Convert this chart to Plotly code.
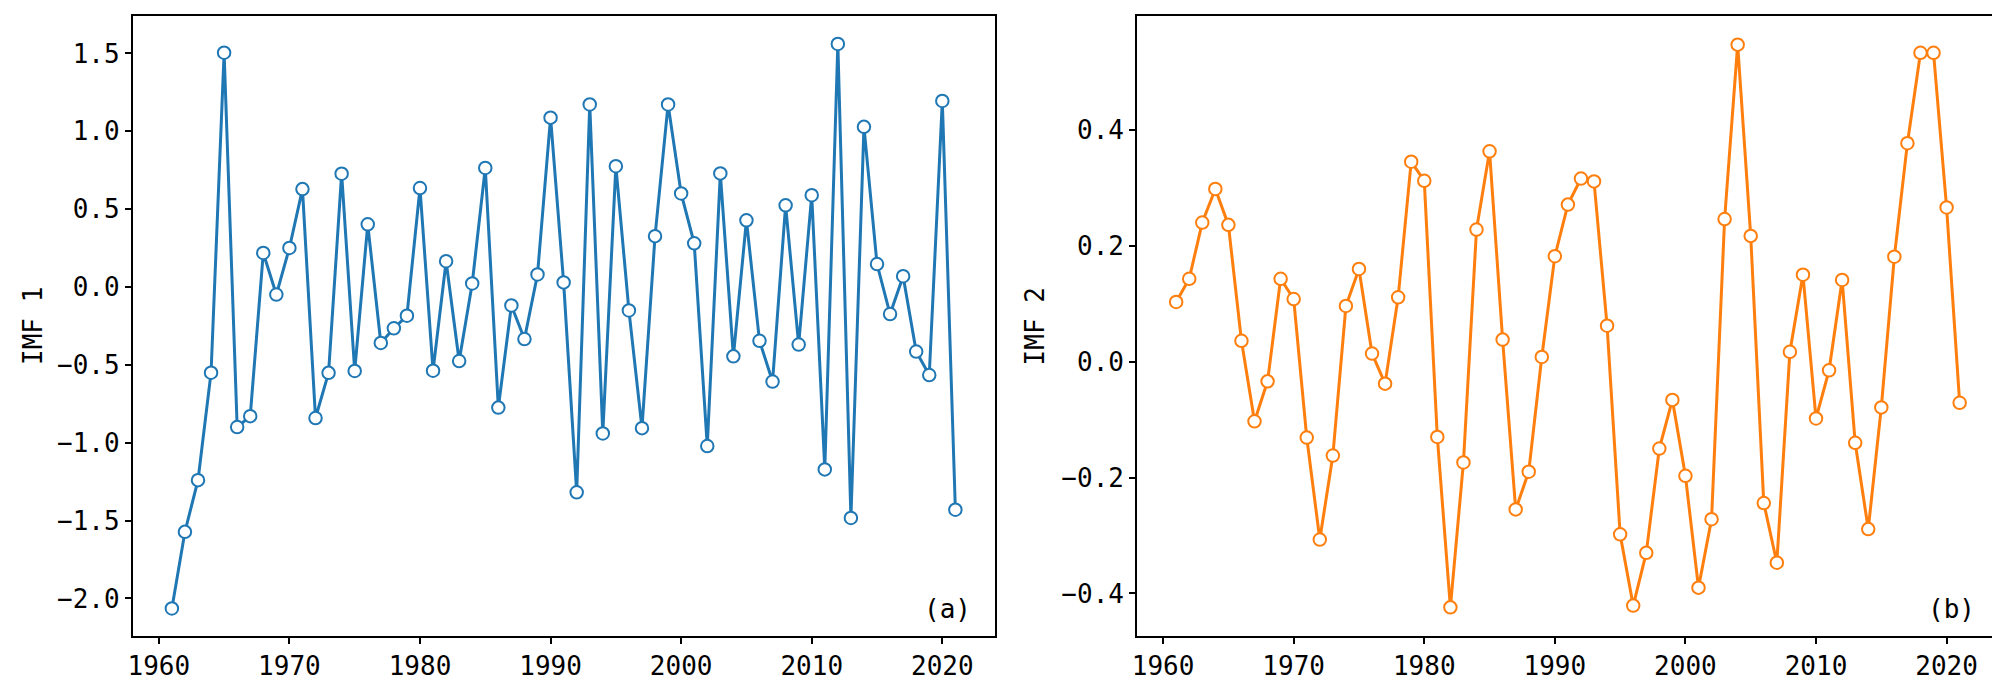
import plotly.graph_objects as go

years = list(range(1961, 2022))

imf1 = [-2.064, -1.572, -1.240, -0.550, 1.505, -0.899, -0.829, 0.219, -0.048, 0.251,
        0.629, -0.841, -0.551, 0.728, -0.539, 0.403, -0.359, -0.265, -0.184, 0.636,
        -0.537, 0.166, -0.475, 0.023, 0.765, -0.774, -0.118, -0.334, 0.081, 1.088,
        0.030, -1.318, 1.173, -0.940, 0.776, -0.150, -0.906, 0.327, 1.173, 0.601,
        0.281, -1.021, 0.730, -0.445, 0.429, -0.345, -0.607, 0.525, -0.369, 0.590,
        -1.171, 1.561, -1.483, 1.029, 0.148, -0.173, 0.070, -0.414, -0.565, 1.195,
        -1.430]

imf2 = [0.103, 0.143, 0.240, 0.298, 0.236, 0.036, -0.103, -0.034, 0.143, 0.108,
        -0.131, -0.307, -0.162, 0.096, 0.160, 0.014, -0.038, 0.111, 0.345, 0.312,
        -0.130, -0.424, -0.174, 0.228, 0.363, 0.038, -0.255, -0.190, 0.008, 0.182,
        0.271, 0.316, 0.311, 0.062, -0.298, -0.421, -0.330, -0.150, -0.066, -0.197,
        -0.390, -0.272, 0.246, 0.547, 0.217, -0.244, -0.347, 0.017, 0.150, -0.098,
        -0.015, 0.141, -0.140, -0.289, -0.079, 0.181, 0.377, 0.533, 0.533, 0.266,
        -0.071]

x_ticks = [1960, 1970, 1980, 1990, 2000, 2010, 2020]
y1_ticks = [-2.0, -1.5, -1.0, -0.5, 0.0, 0.5, 1.0, 1.5]
y2_ticks = [-0.4, -0.2, 0.0, 0.2, 0.4]

blue = "#1f77b4"
orange = "#ff7f0e"
FONT = "DejaVu Sans Mono"
FS = 26

fig = go.Figure()

def series(y, color, xa, ya):
    return go.Scatter(
        x=years, y=y, mode="lines+markers", xaxis=xa, yaxis=ya,
        line=dict(color=color, width=3),
        marker=dict(symbol="circle", size=12.5, color="white",
                    line=dict(color=color, width=2)),
        showlegend=False, cliponaxis=False)

fig.add_trace(series(imf1, blue, "x", "y"))
fig.add_trace(series(imf2, orange, "x2", "y2"))

def neg(v, fmt):
    s = fmt.format(abs(v))
    return ("\u2212" + s) if v < 0 else s

axis_common = dict(
    showline=True, linecolor="black", linewidth=1.6, mirror=True,
    ticks="outside", ticklen=6, tickwidth=1.5, tickcolor="black",
    showgrid=False, zeroline=False,
    tickfont=dict(family=FONT, size=FS, color="black"),
)

fig.update_layout(
    width=2000, height=681,
    margin=dict(l=0, r=0, t=0, b=0),
    paper_bgcolor="white", plot_bgcolor="white",
    xaxis=dict(domain=[0.060, 0.492], range=[1958, 2024], anchor="y",
               tickvals=x_ticks, ticktext=[str(t) for t in x_ticks], **axis_common),
    yaxis=dict(domain=[0.0778, 0.9883], range=[-2.241, 1.741], anchor="x",
               tickvals=y1_ticks, ticktext=[neg(v, "{:.1f}") for v in y1_ticks],
               **axis_common),
    xaxis2=dict(domain=[0.5634, 0.9954], range=[1958, 2024], anchor="y2",
                tickvals=x_ticks, ticktext=[str(t) for t in x_ticks], **axis_common),
    yaxis2=dict(domain=[0.0778, 0.9883], range=[-0.4735, 0.5965], anchor="x2",
                tickvals=y2_ticks, ticktext=[neg(v, "{:.1f}") for v in y2_ticks],
                **axis_common),
)

annots = [
    dict(text="IMF 1", xref="paper", yref="y domain", x=20 / 2000, y=0.5,
         textangle=-90, showarrow=False, xanchor="center", yanchor="middle"),
    dict(text="IMF 2", xref="paper", yref="y2 domain", x=1025 / 2000, y=0.5,
         textangle=-90, showarrow=False, xanchor="center", yanchor="middle"),
    dict(text="(a)", xref="x domain", yref="y domain", x=1, y=0,
         xshift=-22, yshift=10, xanchor="right", yanchor="bottom", showarrow=False),
    dict(text="(b)", xref="x2 domain", yref="y2 domain", x=1, y=0,
         xshift=-22, yshift=10, xanchor="right", yanchor="bottom", showarrow=False),
]
for a in annots:
    a["font"] = dict(family=FONT, size=FS, color="black")
    fig.add_annotation(**a)

fig.write_html("out.html")
